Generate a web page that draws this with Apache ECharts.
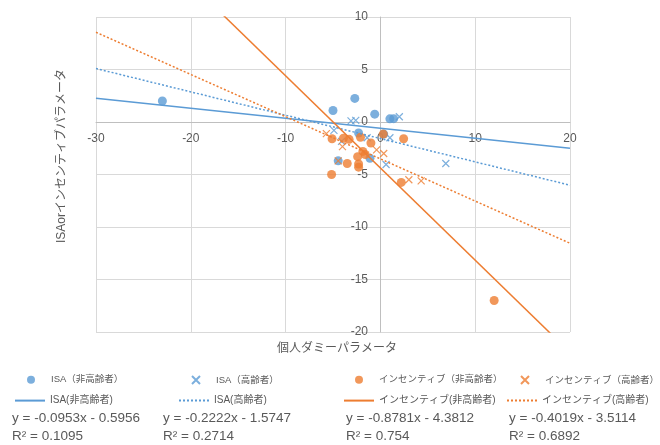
<!DOCTYPE html>
<html>
<head>
<meta charset="utf-8">
<script src="https://cdn.jsdelivr.net/npm/echarts@6/dist/echarts.min.js"></script>
<style>
  html, body { margin: 0; padding: 0; background: #fff; }
  #chart { width: 660px; height: 445px; }
</style>
</head>
<body>
<div id="chart"></div>
<script>
// 読み取った散布点 [個人ダミーパラメータ, パラメータ]
const isaYoung = [
  [-23.0, 2.0], [-5.0, 1.1], [-2.7, 2.25], [-0.6, 0.75], [1.0, 0.3],
  [1.4, 0.32], [-2.3, -1.05], [0.35, -1.15], [-4.45, -3.7], [-1.1, -3.45]
]
const isaOld = [
  [-3.1, 0.1], [-2.6, 0.15], [2.0, 0.5], [-4.9, -0.8], [-4.1, -1.85],
  [-1.4, -1.5], [1.0, -1.5], [0.6, -4.05], [6.9, -3.95]
]
const incYoung = [
  [12.0, -17.0], [-5.1, -1.6], [-3.9, -1.55], [-3.3, -1.65], [-2.1, -1.45],
  [-1.0, -2.0], [0.3, -1.15], [2.45, -1.6], [-1.85, -2.8], [-1.6, -3.1],
  [-2.4, -3.3], [-3.5, -3.95], [-2.3, -4.0], [-2.3, -4.3], [-5.15, -5.0],
  [2.2, -5.75]
]
const incOld = [
  [-5.7, -1.1], [-4.0, -2.35], [-0.4, -2.65], [0.35, -3.0], [3.0, -5.5],
  [4.3, -5.6], [-4.45, -3.7]
]

// 近似直線（凡例の式）
const slopes = [-0.0953, -0.2222, -0.8781, -0.4019]
const intercepts = [-0.5956, -1.5747, -4.3812, -3.5114]
const r2 = ['0.1095', '0.2714', '0.754', '0.6892']
const xRange = [-30, 20]

const pointNames = ['ISA（非高齢者）', 'ISA（高齢者）', 'インセンティブ（非高齢者）', 'インセンティブ（高齢者）']
const lineNames = ['ISA(非高齢者)', 'ISA(高齢者)', 'インセンティブ(非高齢者)', 'インセンティブ(高齢者)']

const BLUE = '#5B9BD5'
const ORANGE = '#ED7D31'
const TXT = '#595959'
const FONT = '"Liberation Sans", "Noto Sans CJK JP", sans-serif'
const CROSS = 'path://M0,0L10,10M10,0L0,10'

// 凡例の列位置
const row1Left = [22, 186, 350, 515]
const row2Left = [9, 173, 338, 501]
const colCenter = [77, 228, 411, 574]

const colors = [BLUE, BLUE, ORANGE, ORANGE]
const pointSets = [isaYoung, isaOld, incYoung, incOld]

const series = []
pointSets.forEach((pts, i) => {
  const cross = i % 2 === 1
  series.push({
    name: pointNames[i],
    type: 'scatter',
    data: pts,
    symbol: cross ? CROSS : 'circle',
    symbolSize: cross ? 7 : 9,
    itemStyle: cross
      ? { color: 'transparent', borderColor: colors[i], borderWidth: 1.2 }
      : { color: colors[i] }
  })
})
slopes.forEach((a, i) => {
  series.push({
    name: lineNames[i],
    type: 'line',
    symbol: 'none',
    silent: true,
    clip: true,
    data: xRange.map(x => [x, a * x + intercepts[i]]),
    itemStyle: { color: colors[i], opacity: 0 },
    lineStyle: {
      color: colors[i],
      width: 1.5,
      type: i % 2 === 1 ? [2, 2] : 'solid'
    }
  })
})

const legends = []
pointNames.forEach((n, i) => {
  legends.push({
    data: [n], left: row1Left[i], top: 370, itemWidth: 30, itemHeight: 8,
    textStyle: { color: TXT, fontSize: 9.5, fontFamily: FONT }
  })
})
lineNames.forEach((n, i) => {
  legends.push({
    data: [n], left: row2Left[i], top: 390, itemWidth: 30, itemHeight: 14,
    itemStyle: { opacity: 0 },
    textStyle: { color: TXT, fontSize: 10, fontFamily: FONT }
  })
})

const fmt = v => (v < 0 ? '- ' : '+ ') + Math.abs(v)
const graphics = []
slopes.forEach((a, i) => {
  graphics.push({
    type: 'text', left: colCenter[i] - 65, top: 412,
    style: { text: 'y = ' + a + 'x ' + fmt(intercepts[i]), fill: TXT, font: '13.5px ' + FONT, width: 130, align: 'center' }
  })
  graphics.push({
    type: 'text', left: colCenter[i] - 65, top: 430,
    style: { text: 'R² = ' + r2[i], fill: TXT, font: '13.5px ' + FONT, width: 130, align: 'center' }
  })
})
graphics.push({
  type: 'text', left: 277, top: 343,
  style: { text: '個人ダミーパラメータ', fill: TXT, font: '12px ' + FONT }
})
graphics.push({
  type: 'text', x: 56, y: 243, rotation: Math.PI / 2,
  style: { text: 'ISAorインセンティブパラメータ', fill: TXT, font: '12px ' + FONT }
})

const option = {
  backgroundColor: '#fff',
  animation: false,
  textStyle: { fontFamily: FONT },
  grid: { left: 96, top: 17, width: 474, height: 315 },
  xAxis: {
    type: 'value', min: -30, max: 20, interval: 10,
    offset: -210,
    axisLine: { onZero: false, lineStyle: { color: '#BFBFBF' } },
    axisTick: { show: false },
    axisLabel: { color: TXT, fontSize: 12, margin: 11 },
    splitLine: { lineStyle: { color: '#D9D9D9' } }
  },
  yAxis: {
    type: 'value', min: -20, max: 10, interval: 5,
    offset: -284,
    axisLine: { show: true, onZero: false, lineStyle: { color: '#BFBFBF' } },
    axisTick: { show: false },
    axisLabel: { color: TXT, fontSize: 12, margin: 12 },
    splitLine: { lineStyle: { color: '#D9D9D9' } }
  },
  legend: legends,
  graphic: graphics,
  series: series
}

const myChart = echarts.init(document.getElementById('chart'))
myChart.setOption(option)
</script>
</body>
</html>
